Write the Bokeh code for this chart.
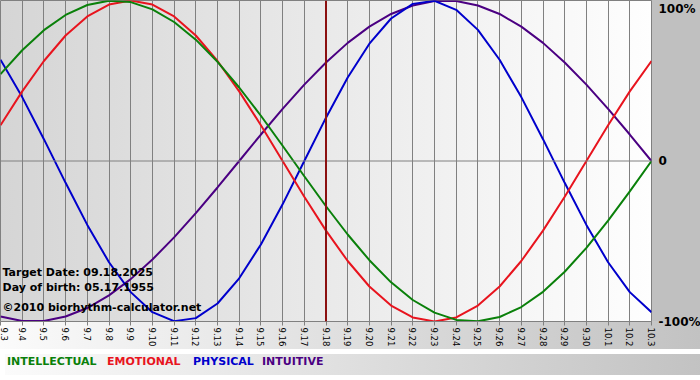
import math
from bokeh.plotting import figure
from bokeh.models import Range1d, FixedTicker, Span, Label, Div
from bokeh.layouts import column
from bokeh.embed import file_html
from bokeh.resources import INLINE

dates = ["9.3", "9.4", "9.5", "9.6", "9.7", "9.8", "9.9", "9.10", "9.11", "9.12",
         "9.13", "9.14", "9.15", "9.16", "9.17", "9.18", "9.19", "9.20", "9.21", "9.22",
         "9.23", "9.24", "9.25", "9.26", "9.27", "9.28", "9.29", "9.30", "10.1", "10.2", "10.3"]

intellectual = [0.541, 0.690, 0.815, 0.910, 0.972, 0.999, 0.990, 0.945, 0.866, 0.756,
                0.618, 0.458, 0.282, 0.095, -0.095, -0.282, -0.458, -0.618, -0.756, -0.866,
                -0.945, -0.990, -0.999, -0.972, -0.910, -0.815, -0.690, -0.541, -0.372, -0.189, 0.0]
emotional = [0.223, 0.434, 0.623, 0.782, 0.901, 0.975, 1.0, 0.975, 0.901, 0.782,
             0.623, 0.434, 0.223, 0.0, -0.223, -0.434, -0.623, -0.782, -0.901, -0.975,
             -1.0, -0.975, -0.901, -0.782, -0.623, -0.434, -0.223, 0.0, 0.223, 0.434, 0.623]
physical = [0.631, 0.398, 0.136, -0.136, -0.398, -0.631, -0.817, -0.942, -0.998, -0.979,
            -0.888, -0.731, -0.520, -0.270, 0.0, 0.270, 0.520, 0.731, 0.888, 0.979,
            0.998, 0.942, 0.817, 0.631, 0.398, 0.136, -0.136, -0.398, -0.631, -0.817, -0.942]
intuitive = [-0.969, -0.997, -0.997, -0.969, -0.916, -0.837, -0.736, -0.614, -0.476, -0.325,
             -0.165, 0.0, 0.165, 0.325, 0.476, 0.614, 0.736, 0.837, 0.916, 0.969,
             0.997, 0.997, 0.969, 0.916, 0.837, 0.736, 0.614, 0.476, 0.325, 0.165, 0.0]

target_date = "9.18"
info_lines = ["Target Date: 09.18.2025", "Day of birth: 05.17.1955", "\u00a92010 biorhythm-calculator.net"]
legend_names = ["INTELLECTUAL", "EMOTIONAL", "PHYSICAL", "INTUITIVE"]

FONT = "DejaVu Sans"
colors = ["#0a800a", "#e8141e", "#0000cc", "#4b0082"]

x = list(range(len(dates)))

p = figure(frame_width=651, frame_height=321,
           x_range=Range1d(0, len(dates) - 1), y_range=Range1d(-1, 1),
           output_backend="svg", toolbar_location=None,
           y_axis_location="right",
           min_border_left=0, min_border_top=0, min_border_right=49, min_border_bottom=28,
           border_fill_color=None, background_fill_color=None,
           outline_line_color="#808080")

p.styles = {
    "background": ("linear-gradient(to right, #d5d5d5, #fefefe) 0 0 / 651px 321px no-repeat, "
                   "linear-gradient(to right, #fbfbfb, #c2c2c2) 0 321px / 700px 40px no-repeat, "
                   "linear-gradient(#c0c0c0, #c0c0c0) 0 0 / 700px 321px no-repeat"),
}

ticker = FixedTicker(ticks=x)
p.xaxis.ticker = ticker
p.xaxis.major_label_overrides = {i: d for i, d in enumerate(dates)}
p.xaxis.major_label_orientation = -math.pi / 2
p.xaxis.major_label_text_font = FONT
p.xaxis.major_label_text_font_size = "8.5px"
p.xaxis.major_label_text_color = "black"
p.xaxis.major_label_standoff = 2
p.xaxis.axis_line_color = "#808080"
p.xaxis.major_tick_line_color = "#808080"
p.xaxis.major_tick_out = 4
p.xaxis.major_tick_in = 0
p.xaxis.minor_tick_line_color = None

p.yaxis.ticker = FixedTicker(ticks=[-1, 0, 0.95])
p.yaxis.major_label_overrides = {-1: "-100%", 0: "0", 0.95: "100%"}
p.yaxis.major_label_text_font = FONT
p.yaxis.major_label_text_font_style = "bold"
p.yaxis.major_label_text_font_size = "12px"
p.yaxis.major_label_text_color = "black"
p.yaxis.major_label_standoff = 7
p.yaxis.axis_line_color = None
p.yaxis.major_tick_line_color = None
p.yaxis.minor_tick_line_color = None
p.yaxis.major_tick_out = 0
p.yaxis.major_tick_in = 0

p.xgrid.ticker = ticker
p.xgrid.grid_line_color = "#808080"
p.ygrid.visible = False

p.add_layout(Span(location=0, dimension="width", line_color="#808080", line_width=1))
p.add_layout(Span(location=dates.index(target_date), dimension="height",
                  line_color="#8b1010", line_width=2))

for series, c in zip([intuitive, physical, emotional, intellectual], colors[::-1]):
    p.line(x, series, line_color=c, line_width=2)

for i, t in enumerate(info_lines):
    p.add_layout(Label(x=2, y=[49, 34, 14][i], x_units="screen", y_units="screen", text=t,
                       text_font=FONT, text_font_style="bold", text_font_size="11px",
                       text_color="black", text_baseline="middle"))

spans = "".join(
    f'<span style="position:absolute;left:{xx}px;top:1px;color:{c}">{t}</span>'
    for t, c, xx in zip(legend_names, colors, [2, 102, 188, 257])
)
legend_div = Div(text=spans, width=700, height=21,
                 styles={"position": "relative", "font-family": FONT, "font-weight": "bold",
                         "font-size": "11px", "line-height": "13px",
                         "background": "linear-gradient(to right, #fbfbfb, #c2c2c2)"})

layout = column(p, legend_div, spacing=0)

open("out.html", "w").write(file_html(layout, INLINE))
